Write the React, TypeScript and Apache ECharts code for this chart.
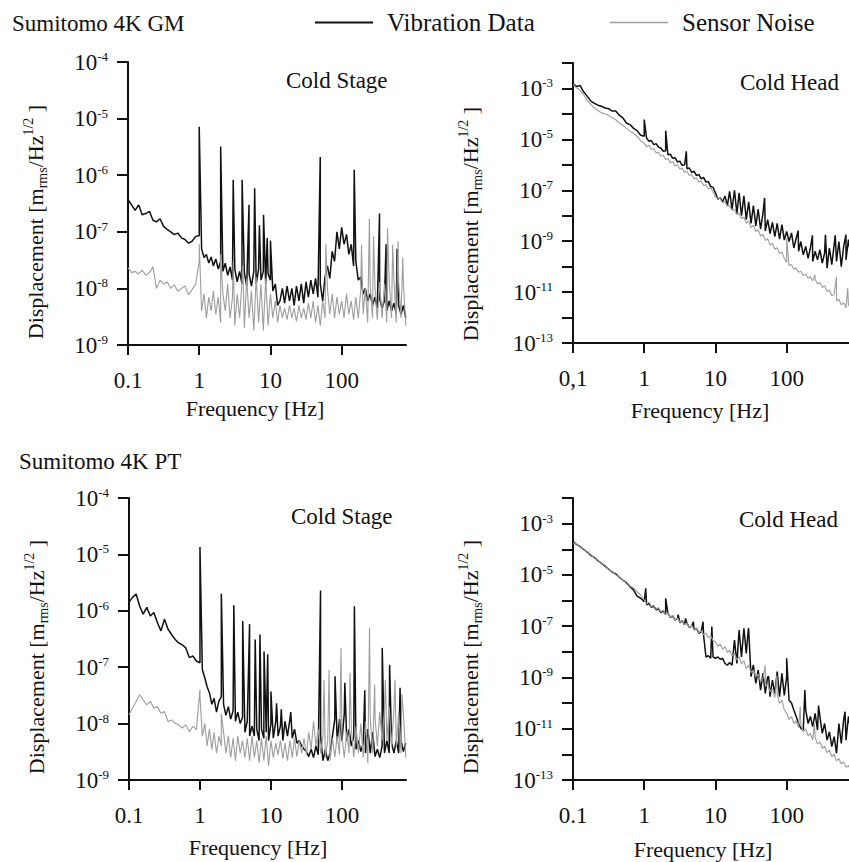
import React, { useEffect, useRef } from 'react';
import * as echarts from 'echarts';

// ---------- shared frequency grid (Hz) ----------
const FREQ = [
  0.1, 0.112, 0.126, 0.141, 0.158, 0.178, 0.2, 0.224, 0.251, 0.282, 0.316, 0.355, 0.398, 0.447, 0.501, 0.562, 0.631, 0.708, 0.794, 0.891,
  1, 1.08, 1.17, 1.26, 1.36, 1.47, 1.58, 1.71, 1.85, 2, 2.15, 2.32, 2.51, 2.71, 2.93, 3.16, 3.41, 3.69, 3.98, 4.3, 4.64, 5.01, 5.41, 5.84, 6.31, 6.81, 7.36, 7.94, 8.58, 9.26,
  10, 10.8, 11.7, 12.6, 13.6, 14.7, 15.8, 17.1, 18.5, 20, 21.5, 23.2, 25.1, 27.1, 29.3, 31.6, 34.1, 36.9, 39.8, 43, 46.4, 50.1, 54.1, 58.4, 63.1, 68.1, 73.6, 79.4, 85.8, 92.6,
  100, 108, 117, 126, 136, 147, 158, 171, 185, 200, 215, 232, 251, 271, 293, 316, 341, 369, 398, 430, 464, 501, 541, 584, 631, 681, 736, 794,
];

// ---------- Sumitomo 4K GM, Cold Stage ----------
const GM_STAGE_VIB = [
  3.7e-7, 3.0e-7, 2.4e-7, 3.0e-7, 2.0e-7, 2.1e-7, 2.3e-7, 1.6e-7, 1.5e-7, 1.7e-7, 1.25e-7, 1.1e-7, 1.0e-7, 8.9e-8, 9.5e-8, 7.8e-8, 7.3e-8, 6.3e-8, 6.8e-8, 8.3e-8,
  8.5e-8, 5.0e-8, 3.5e-8, 4.0e-8, 2.8e-8, 3.6e-8, 2.5e-8, 3.3e-8, 2.2e-8, 3.0e-8, 2.0e-8, 2.8e-8, 1.7e-8, 2.4e-8, 1.4e-8, 2.2e-8, 1.3e-8, 2.0e-8, 1.2e-8, 1.9e-8, 1.1e-8, 1.8e-8, 1.1e-8, 2.0e-8, 1.2e-8, 2.2e-8, 1.4e-8, 2.0e-8, 1.2e-8, 1.8e-8,
  1.4e-8, 9e-9, 1.2e-8, 5e-9, 6e-9, 1.0e-8, 5.5e-9, 1.1e-8, 6e-9, 1.0e-8, 5e-9, 1.1e-8, 6e-9, 1.2e-8, 5.5e-9, 1.3e-8, 7e-9, 1.4e-8, 8e-9, 1.5e-8, 7e-9, 1.2e-8, 6e-9, 1.6e-8, 2.5e-8, 1.5e-8, 4.5e-8, 3e-8, 1.0e-7, 5e-8,
  1.2e-7, 6e-8, 9e-8, 4e-8, 6e-8, 2.5e-8, 3e-8, 1.4e-8, 1.6e-8, 8e-9, 1e-8, 6e-9, 8e-9, 5e-9, 7e-9, 4.5e-9, 6.5e-9, 4.5e-9, 6e-9, 4e-9, 6e-9, 4e-9, 5.5e-9, 3.5e-9, 5e-9, 3.5e-9, 5e-9, 3e-9,
];
const GM_STAGE_VIB_SPIKE_F = [1, 2, 3, 4, 5, 6, 7, 8, 9, 10, 50, 150, 340, 420, 600];
const GM_STAGE_VIB_SPIKE_V = [7.2e-6, 3.2e-6, 8.3e-7, 8.3e-7, 3.0e-7, 5.9e-7, 1.3e-7, 2.0e-7, 7.8e-8, 7.0e-8, 2.1e-6, 1.25e-6, 2.1e-7, 6e-8, 5e-8];
const GM_STAGE_NOISE = [
  2.3e-8, 1.9e-8, 2.0e-8, 1.8e-8, 2.1e-8, 1.7e-8, 1.9e-8, 2.4e-8, 1.0e-8, 1.4e-8, 1.2e-8, 1.3e-8, 1.0e-8, 1.15e-8, 8.9e-9, 1.0e-8, 1.1e-8, 7.7e-9, 9.5e-9, 1.2e-8,
  3e-8, 4e-9, 8e-9, 3e-9, 7e-9, 4e-9, 9e-9, 3.5e-9, 7e-9, 2.5e-9, 8e-9, 4e-9, 1.2e-8, 3e-9, 7e-9, 2.2e-9, 8e-9, 3e-9, 1.3e-8, 2e-9, 1.5e-8, 3e-9, 9e-9, 1.8e-9, 1.6e-8, 2.5e-9, 1.2e-8, 1.8e-9, 1.5e-8, 2.2e-9,
  8e-9, 3e-9, 6e-9, 2.5e-9, 5e-9, 3e-9, 4.5e-9, 2.8e-9, 5e-9, 3e-9, 4.5e-9, 2.6e-9, 5e-9, 3e-9, 4.5e-9, 2.8e-9, 5.5e-9, 3e-9, 6e-9, 2.5e-9, 5e-9, 2.2e-9, 6e-9, 3e-9, 1e-8, 3.5e-9, 8e-9, 3e-9, 7e-9, 3.5e-9,
  6e-9, 3e-9, 8e-9, 3.5e-9, 6e-9, 2.8e-9, 7e-9, 3e-9, 9e-9, 3.5e-9, 1e-8, 2.5e-9, 1.2e-8, 3e-9, 1.1e-8, 2.8e-9, 1.3e-8, 3e-9, 1.2e-8, 2.5e-9, 1.4e-8, 3e-9, 1.5e-8, 2.5e-9, 1.3e-8, 3e-9, 1.2e-8, 2.2e-9,
];
const GM_STAGE_NOISE_SPIKE_F = [1, 2, 3, 4.1, 60, 190, 245, 280, 440, 520, 620, 720];
const GM_STAGE_NOISE_SPIKE_V = [6e-8, 4e-8, 3e-8, 2.5e-8, 6e-8, 5.9e-8, 1.7e-7, 8.3e-8, 1.15e-7, 5.9e-8, 6.8e-8, 3.5e-8];

// ---------- Sumitomo 4K GM, Cold Head ----------
const GM_HEAD_VIB = [
  1.53e-3, 1.2e-3, 1.3e-3, 7.4e-4, 5.0e-4, 3.2e-4, 2.6e-4, 2.2e-4, 2.0e-4, 1.7e-4, 1.6e-4, 1.3e-4, 1.3e-4, 8.9e-5, 7.0e-5, 4.4e-5, 3.8e-5, 2.7e-5, 2.2e-5, 1.45e-5,
  1.33e-5, 1.1e-5, 8.5e-6, 9.0e-6, 6.2e-6, 6.8e-6, 5.0e-6, 4.6e-6, 3.4e-6, 3.6e-6, 2.5e-6, 2.6e-6, 1.8e-6, 1.9e-6, 1.3e-6, 1.4e-6, 9.5e-7, 1.0e-6, 7.0e-7, 7.5e-7, 5.0e-7, 5.6e-7, 3.8e-7, 4.2e-7, 2.8e-7, 3.2e-7, 2.1e-7, 2.2e-7, 1.4e-7, 1.3e-7,
  8e-8, 4.5e-8, 5e-8, 3.5e-8, 6e-8, 2.5e-8, 9e-8, 1.8e-8, 1.0e-7, 1.2e-8, 8e-8, 1.0e-8, 6e-8, 7e-9, 3.5e-8, 5e-9, 2.5e-8, 4e-9, 1.8e-8, 3e-9, 1.2e-8, 2.5e-9, 7e-9, 2e-9, 5.5e-9, 1.5e-9, 5e-9, 1.2e-9, 4.5e-9, 1.1e-9,
  2.4e-9, 9.7e-10, 2.1e-9, 5.4e-10, 1.3e-9, 4e-10, 9.7e-10, 2.9e-10, 6.2e-10, 2.1e-10, 5.4e-10, 1.6e-10, 4e-10, 1.85e-10, 4.6e-10, 1.37e-10, 3.4e-10, 8.7e-11, 5.4e-10, 1.2e-10, 7.2e-10, 1.6e-10, 9.7e-10, 1e-10, 6.2e-10, 1.85e-10, 1.15e-9, 2.9e-10,
];
const GM_HEAD_VIB_SPIKE_F = [1, 2, 3.9, 49, 145, 230, 350, 480, 680];
const GM_HEAD_VIB_SPIKE_V = [6e-5, 2.2e-5, 3.4e-6, 5e-8, 2.6e-9, 1.7e-9, 1.8e-9, 1.7e-9, 1.8e-9];
const GM_HEAD_NOISE = [
  1.44e-3, 1.06e-3, 8.3e-4, 5.8e-4, 3.4e-4, 2.35e-4, 1.74e-4, 1.36e-4, 1.1e-4, 1.0e-4, 8.9e-5, 7.0e-5, 5.9e-5, 4.4e-5, 3.6e-5, 2.7e-5, 2.1e-5, 1.75e-5, 1.32e-5, 8.9e-6,
  7.0e-6, 5.2e-6, 5.8e-6, 4.0e-6, 4.4e-6, 2.9e-6, 3.2e-6, 2.2e-6, 2.4e-6, 1.6e-6, 1.8e-6, 1.2e-6, 1.35e-6, 9e-7, 1.0e-6, 6.8e-7, 7.5e-7, 5.0e-7, 5.6e-7, 3.8e-7, 4.2e-7, 2.8e-7, 3.1e-7, 2.1e-7, 2.3e-7, 1.55e-7, 1.7e-7, 1.15e-7, 1.25e-7, 8.5e-8,
  5.5e-8, 5.0e-8, 4.6e-8, 3.3e-8, 3.5e-8, 2.4e-8, 2.5e-8, 1.6e-8, 1.8e-8, 1.1e-8, 1.26e-8, 7.6e-9, 8.9e-9, 5.0e-9, 6.3e-9, 3.5e-9, 4.2e-9, 2.4e-9, 2.8e-9, 1.6e-9, 1.9e-9, 1.05e-9, 1.26e-9, 7.1e-10, 8.3e-10, 4.8e-10, 5.6e-10, 3.2e-10, 3.8e-10, 2.1e-10,
  1.5e-10, 1.1e-10, 1.2e-10, 7.9e-11, 8.9e-11, 6.0e-11, 6.6e-11, 4.5e-11, 5.0e-11, 3.5e-11, 4.0e-11, 2.8e-11, 3.2e-11, 2.1e-11, 2.4e-11, 1.5e-11, 1.8e-11, 1.05e-11, 1.2e-11, 7.1e-12, 8.3e-12, 4.5e-12, 5.2e-12, 3.2e-12, 3.8e-12, 2.4e-12, 3.2e-12, 2.2e-12,
];
const GM_HEAD_NOISE_SPIKE_F = [100, 250, 500, 720];
const GM_HEAD_NOISE_SPIKE_V = [1.3e-9, 4.8e-11, 4e-11, 1.4e-11];

// ---------- Sumitomo 4K PT, Cold Stage ----------
const PT_STAGE_VIB = [
  1.41e-6, 1.73e-6, 1.99e-6, 1.23e-6, 8.7e-7, 1.15e-6, 8.1e-7, 9.3e-7, 6.2e-7, 4.4e-7, 7.1e-7, 4.7e-7, 3.8e-7, 3.1e-7, 2.7e-7, 2.5e-7, 2.2e-7, 1.48e-7, 1.58e-7, 1.29e-7,
  1.2e-7, 9e-8, 6.5e-8, 4.5e-8, 3.5e-8, 2.2e-8, 2.8e-8, 1.6e-8, 2.5e-8, 3e-8, 2.2e-8, 1.4e-8, 2e-8, 1.2e-8, 1.7e-8, 1.1e-8, 1.6e-8, 1.0e-8, 1.3e-8, 7e-9, 1.1e-8, 6e-9, 9e-9, 6e-9, 8e-9, 5e-9, 8e-9, 5.5e-9, 7e-9, 5e-9,
  1.0e-8, 5.5e-9, 1.1e-8, 6e-9, 9e-9, 5e-9, 1.1e-8, 6e-9, 1.2e-8, 5.5e-9, 8e-9, 4.5e-9, 5e-9, 4e-9, 3.5e-9, 3.2e-9, 2.6e-9, 3.5e-9, 2.5e-9, 4e-9, 2.8e-9, 6e-9, 2.2e-9, 3.5e-9, 2.2e-9, 3e-9, 6e-9, 1.2e-8, 5e-9, 1.2e-8,
  5e-9, 1.5e-8, 5e-9, 8e-9, 4e-9, 6e-9, 3.5e-9, 5e-9, 3.2e-9, 4.5e-9, 3e-9, 8e-9, 3e-9, 7e-9, 2.6e-9, 3.5e-9, 2.5e-9, 4e-9, 3e-9, 5e-9, 3e-9, 4.5e-9, 3e-9, 5e-9, 3e-9, 5e-9, 3.2e-9, 4.5e-9,
];
const PT_STAGE_VIB_SPIKE_F = [1, 2, 3, 4, 5, 6, 7, 8, 9, 10, 12, 14, 19, 50, 80, 110, 150, 210, 370, 470, 660];
const PT_STAGE_VIB_SPIKE_V = [1.35e-5, 2e-6, 1.26e-6, 6.6e-7, 5.8e-7, 3.1e-7, 3.8e-7, 1.9e-7, 1.7e-7, 3.7e-8, 2.3e-8, 1.8e-8, 1.6e-8, 2.3e-6, 6.9e-8, 5.3e-8, 1.2e-6, 3.9e-8, 2.2e-7, 1.1e-7, 4.3e-8];
const PT_STAGE_NOISE = [
  1.43e-8, 1.88e-8, 2.47e-8, 3.25e-8, 2.65e-8, 2.15e-8, 2.47e-8, 1.88e-8, 2.0e-8, 1.53e-8, 1.64e-8, 1.09e-8, 1.16e-8, 1.01e-8, 9.5e-9, 8.3e-9, 9.5e-9, 7.2e-9, 9.0e-9, 7.8e-9,
  4e-8, 6e-9, 1e-8, 4e-9, 8e-9, 3.5e-9, 7e-9, 3e-9, 6e-9, 4e-9, 7e-9, 3e-9, 6e-9, 2.5e-9, 5.5e-9, 2.2e-9, 6e-9, 3e-9, 5e-9, 2.5e-9, 5.5e-9, 2.2e-9, 6e-9, 2.5e-9, 5e-9, 2e-9, 5.5e-9, 2.2e-9, 6e-9, 1.8e-9,
  5e-9, 2.5e-9, 4.5e-9, 2.8e-9, 5e-9, 2.4e-9, 4.5e-9, 2.2e-9, 5e-9, 2.5e-9, 5.5e-9, 2.6e-9, 5e-9, 3e-9, 5.5e-9, 2.8e-9, 7e-9, 3.5e-9, 1.1e-8, 4e-9, 8e-9, 3e-9, 6e-9, 2.5e-9, 5e-9, 2.2e-9, 5.5e-9, 2.5e-9, 6e-9, 2.8e-9,
  6e-9, 2.5e-9, 7e-9, 3e-9, 8e-9, 2.5e-9, 9e-9, 3e-9, 1e-8, 2.5e-9, 1.1e-8, 2e-9, 1.2e-8, 3e-9, 1.3e-8, 4e-9, 1.6e-8, 5e-9, 1.8e-8, 5e-9, 2e-8, 4e-9, 1.8e-8, 4e-9, 1.6e-8, 3e-9, 1.5e-8, 2.5e-9,
];
const PT_STAGE_NOISE_SPIKE_F = [1, 2, 56, 66, 97, 130, 245, 290, 410, 560, 700];
const PT_STAGE_NOISE_SPIKE_V = [3e-8, 1.5e-8, 6e-8, 9e-8, 2.2e-7, 8e-8, 5e-7, 4.9e-8, 6e-8, 6e-8, 3.3e-8];

// ---------- Sumitomo 4K PT, Cold Head ----------
const PT_HEAD_VIB = [
  2.0e-4, 1.56e-4, 1.26e-4, 1.0e-4, 7.8e-5, 5.8e-5, 4.7e-5, 3.6e-5, 2.8e-5, 2.2e-5, 1.66e-5, 1.3e-5, 1.1e-5, 8.1e-6, 6.3e-6, 5.0e-6, 3.5e-6, 2.6e-6, 1.5e-6, 1.23e-6,
  9.1e-7, 6.8e-7, 7.8e-7, 5.4e-7, 6.1e-7, 4.3e-7, 4.8e-7, 3.4e-7, 4.0e-7, 2.8e-7, 3.2e-7, 2.2e-7, 2.5e-7, 1.74e-7, 2.0e-7, 1.38e-7, 1.63e-7, 1.12e-7, 1.29e-7, 8.9e-8, 1.0e-7, 7.1e-8, 8.3e-8, 5.3e-8, 6.1e-8, 4.5e-8, 6.3e-9, 7e-9, 5.6e-9, 6.3e-9,
  5.6e-9, 6.3e-9, 5.1e-9, 5.6e-9, 3.5e-9, 3.0e-9, 3.8e-9, 3.0e-9, 2.9e-8, 3.5e-9, 7.1e-8, 6.3e-9, 8.3e-8, 8.7e-9, 7.1e-8, 1.07e-9, 3.0e-9, 5.9e-10, 1.95e-9, 3.2e-10, 1.45e-9, 2.4e-10, 1.07e-9, 1.78e-10, 7.9e-10, 2.4e-10, 1.7e-9, 1.78e-10, 1.45e-9, 2.0e-10,
  1.07e-9, 1.3e-10, 1e-10, 5.4e-11, 3.0e-11, 1.6e-11, 1.03e-11, 8.9e-12, 5.4e-11, 1.6e-11, 3.0e-11, 1.2e-11, 4e-11, 8.9e-12, 3e-11, 6.6e-12, 1.6e-11, 3.6e-12, 7.6e-12, 2.0e-12, 4.9e-12, 1.1e-12, 1.6e-11, 2.7e-12, 2.2e-11, 3.6e-12, 3e-11, 8.9e-12,
];
const PT_HEAD_VIB_SPIKE_F = [1.05, 2, 3, 3.8, 4.9, 6.7, 8.9, 29, 34, 40, 47, 56, 100, 180, 280, 660];
const PT_HEAD_VIB_SPIKE_V = [3e-6, 1.23e-6, 2.8e-7, 2.0e-7, 1.5e-7, 1.5e-7, 9.6e-8, 8.3e-8, 3.1e-9, 2e-9, 1.45e-9, 1.07e-9, 5.6e-9, 3.2e-10, 8e-11, 4.6e-11];
const PT_HEAD_NOISE = [
  1.8e-4, 1.62e-4, 1.2e-4, 1.05e-4, 7.4e-5, 6.3e-5, 4.4e-5, 3.8e-5, 2.7e-5, 2.4e-5, 1.55e-5, 1.38e-5, 1.0e-5, 8.5e-6, 6.0e-6, 5.3e-6, 3.7e-6, 3.1e-6, 2.2e-6, 1.65e-6,
  1.05e-6, 7.3e-7, 8.7e-7, 5.7e-7, 6.7e-7, 4.6e-7, 5.4e-7, 3.6e-7, 4.3e-7, 2.8e-7, 3.4e-7, 2.2e-7, 2.6e-7, 1.74e-7, 2.1e-7, 1.45e-7, 1.6e-7, 1.14e-7, 1.29e-7, 8.9e-8, 1.07e-7, 7.1e-8, 8.5e-8, 5.6e-8, 6.6e-8, 4.6e-8, 5.3e-8, 3.5e-8, 4.2e-8, 2.7e-8,
  2.5e-8, 1.6e-8, 2.0e-8, 1.25e-8, 1.6e-8, 9.3e-9, 1.17e-8, 6.9e-9, 8.7e-9, 4.8e-9, 6.5e-9, 3.3e-9, 4.5e-9, 2.2e-9, 3.1e-9, 1.55e-9, 1.95e-9, 1.07e-9, 1.35e-9, 6.8e-10, 9.1e-10, 4.4e-10, 5.9e-10, 2.8e-10, 3.7e-10, 1.66e-10, 2.2e-10, 9.8e-11, 1.3e-10, 5.4e-11,
  4.0e-11, 2.3e-11, 3.0e-11, 1.6e-11, 2.0e-11, 1.1e-11, 1.4e-11, 7.6e-12, 1.0e-11, 5.2e-12, 6.6e-12, 3.6e-12, 4.6e-12, 2.5e-12, 3.1e-12, 1.7e-12, 2.1e-12, 1.17e-12, 1.48e-12, 8.1e-13, 1.02e-12, 5.6e-13, 6.9e-13, 4.2e-13, 5.1e-13, 3.1e-13, 3.7e-13, 2.3e-13,
];
const PT_HEAD_NOISE_SPIKE_F = [50, 73, 155, 245];
const PT_HEAD_NOISE_SPIKE_V = [3e-9, 1.2e-9, 7.4e-11, 1.6e-11];

// ---------- axis ticks ----------
const X_TICKS = [0.1, 1, 10, 100];
const STAGE_Y_TICKS = [1e-9, 1e-8, 1e-7, 1e-6, 1e-5, 1e-4];
const HEAD_Y_TICKS = [1e-13, 1e-12, 1e-11, 1e-10, 1e-9, 1e-8, 1e-7, 1e-6, 1e-5, 1e-4, 1e-3, 1e-2];
const HEAD_Y_LABELS = [1e-13, 1e-11, 1e-9, 1e-7, 1e-5, 1e-3];

const TITLES = ['Sumitomo 4K GM', 'Sumitomo 4K PT'];
const PANEL_LABELS = ['Cold Stage', 'Cold Head', 'Cold Stage', 'Cold Head'];
const SERIES_NAMES = ['Vibration Data', 'Sensor Noise'];

const FONT = '"Liberation Serif", "Times New Roman", Times, serif';
const INK = '#111111';
const GREY = '#9d9d9d';

function merge(vals: number[], sf: number[], sv: number[]) {
  const pts: number[][] = FREQ.map((f, i) => [f, vals[i]]);
  sf.forEach((f, i) => pts.push([f, sv[i]]));
  pts.sort((a, b) => a[0] - b[0]);
  return pts;
}

const PANELS = [
  { vib: merge(GM_STAGE_VIB, GM_STAGE_VIB_SPIKE_F, GM_STAGE_VIB_SPIKE_V), noise: merge(GM_STAGE_NOISE, GM_STAGE_NOISE_SPIKE_F, GM_STAGE_NOISE_SPIKE_V), yMin: 1e-9, yMax: 1e-4, ticks: STAGE_Y_TICKS, labels: STAGE_Y_TICKS, x0: '0.1' },
  { vib: merge(GM_HEAD_VIB, GM_HEAD_VIB_SPIKE_F, GM_HEAD_VIB_SPIKE_V), noise: merge(GM_HEAD_NOISE, GM_HEAD_NOISE_SPIKE_F, GM_HEAD_NOISE_SPIKE_V), yMin: 1e-13, yMax: 1e-2, ticks: HEAD_Y_TICKS, labels: HEAD_Y_LABELS, x0: '0,1' },
  { vib: merge(PT_STAGE_VIB, PT_STAGE_VIB_SPIKE_F, PT_STAGE_VIB_SPIKE_V), noise: merge(PT_STAGE_NOISE, PT_STAGE_NOISE_SPIKE_F, PT_STAGE_NOISE_SPIKE_V), yMin: 1e-9, yMax: 1e-4, ticks: STAGE_Y_TICKS, labels: STAGE_Y_TICKS, x0: '0.1' },
  { vib: merge(PT_HEAD_VIB, PT_HEAD_VIB_SPIKE_F, PT_HEAD_VIB_SPIKE_V), noise: merge(PT_HEAD_NOISE, PT_HEAD_NOISE_SPIKE_F, PT_HEAD_NOISE_SPIKE_V), yMin: 1e-13, yMax: 1e-2, ticks: HEAD_Y_TICKS, labels: HEAD_Y_LABELS, x0: '0.1' },
];

// layout (pixels)
const GRIDS = [
  { left: 128, top: 62, width: 278, height: 283 },
  { left: 573, top: 63, width: 278, height: 280 },
  { left: 129, top: 498, width: 277, height: 282 },
  { left: 573, top: 498, width: 278, height: 282 },
];
const TITLE_POS = [[12, 23], [19, 461]];
const PANEL_LABEL_POS = [[286, 80], [740, 82], [291, 516], [739, 519]];
const XNAME_POS = [[255, 408], [700, 410], [258, 847], [703, 849]];
const YNAME_POS = [[35, 222], [470, 224], [36, 657], [470, 657]];

export default function App() {
  const ref = useRef<HTMLDivElement>(null);
  useEffect(() => {
    if (!ref.current) return;
    const chart = echarts.init(ref.current, null, { renderer: 'svg' });

    const axisLineStyle = { color: INK, width: 2 };
    const xAxis = PANELS.map((p, i) => ({
      type: 'log', logBase: 10, gridIndex: i, min: 0.1, max: 800,
      axisLine: { show: true, lineStyle: axisLineStyle },
      axisTick: { show: true, length: 10, lineStyle: { color: INK, width: 2 }, customValues: X_TICKS },
      axisLabel: {
        customValues: X_TICKS, margin: 24, color: INK, fontSize: 23, fontFamily: FONT,
        formatter: (v: number) => (v < 0.5 ? p.x0 : String(Math.round(v))),
      },
      splitLine: { show: false }, minorTick: { show: false }, minorSplitLine: { show: false },
    }));
    const yAxis = PANELS.map((p, i) => ({
      type: 'log', logBase: 10, gridIndex: i, min: p.yMin, max: p.yMax,
      axisLine: { show: true, lineStyle: axisLineStyle },
      axisTick: { show: true, length: 11, lineStyle: { color: INK, width: 2 }, customValues: p.ticks },
      axisLabel: {
        customValues: p.labels, margin: 20, color: INK, fontFamily: FONT,
        formatter: (v: number) => `{b|10}{s|${Math.round(Math.log10(v))}}`,
        rich: {
          b: { fontSize: 23, fontFamily: FONT, color: INK, lineHeight: 24 },
          s: { fontSize: 13, fontFamily: FONT, color: INK, verticalAlign: 'top', lineHeight: 13 },
        },
      },
      splitLine: { show: false },
    }));

    const series: any[] = [];
    PANELS.forEach((p, i) => {
      series.push({
        type: 'line', name: SERIES_NAMES[0], xAxisIndex: i, yAxisIndex: i, data: p.vib,
        symbol: 'none', showSymbol: false, silent: true, z: 2,
        lineStyle: { color: INK, width: 1.5 }, itemStyle: { color: INK },
      });
      series.push({
        type: 'line', name: SERIES_NAMES[1], xAxisIndex: i, yAxisIndex: i, data: p.noise,
        symbol: 'none', showSymbol: false, silent: true, z: 3,
        lineStyle: { color: GREY, width: 1.1 }, itemStyle: { color: GREY },
      });
    });

    const textBase = { fontFamily: FONT, fill: INK };
    const graphic: any[] = [];
    TITLE_POS.forEach((pos, i) => {
      graphic.push({ type: 'text', x: pos[0], y: pos[1], style: { ...textBase, text: TITLES[i], fontSize: 23, align: 'left', verticalAlign: 'middle' } });
    });
    PANEL_LABEL_POS.forEach((pos, i) => {
      graphic.push({ type: 'text', x: pos[0], y: pos[1], style: { ...textBase, text: PANEL_LABELS[i], fontSize: 23, align: 'left', verticalAlign: 'middle' } });
    });
    XNAME_POS.forEach((pos) => {
      graphic.push({ type: 'text', x: pos[0], y: pos[1], style: { ...textBase, text: 'Frequency [Hz]', fontSize: 22, align: 'center', verticalAlign: 'middle' } });
    });
    YNAME_POS.forEach((pos) => {
      graphic.push({
        type: 'text', x: pos[0], y: pos[1], rotation: Math.PI / 2,
        style: {
          ...textBase, text: '{n|Displacement [m}{sub|rms}{n|/Hz}{sup|1/2}{n| ]}', align: 'center', verticalAlign: 'middle',
          rich: {
            n: { fontSize: 22, fontFamily: FONT, fill: INK, lineHeight: 28 },
            sub: { fontSize: 14, fontFamily: FONT, fill: INK, verticalAlign: 'bottom', lineHeight: 14 },
            sup: { fontSize: 14, fontFamily: FONT, fill: INK, verticalAlign: 'top', lineHeight: 14 },
          },
        },
      });
    });

    const legendBase = {
      top: 10, itemWidth: 58, selectedMode: false, padding: 0, icon: 'rect',
      textStyle: { fontSize: 25, fontFamily: FONT, color: INK, padding: [0, 0, 0, 9] },
    };

    chart.setOption({
      animation: false,
      backgroundColor: '#ffffff',
      grid: GRIDS.map((g) => ({ ...g, containLabel: false, outerBoundsMode: 'none' })),
      xAxis, yAxis, series, graphic,
      legend: [
        { ...legendBase, left: 315, itemHeight: 2, data: [SERIES_NAMES[0]] },
        { ...legendBase, left: 610, itemHeight: 1.5, data: [SERIES_NAMES[1]] },
      ],
    });
    return () => chart.dispose();
  }, []);
  return <div ref={ref} style={{ position: 'fixed', left: 0, top: 0, width: 849, height: 862, background: '#fff' }} />;
}
